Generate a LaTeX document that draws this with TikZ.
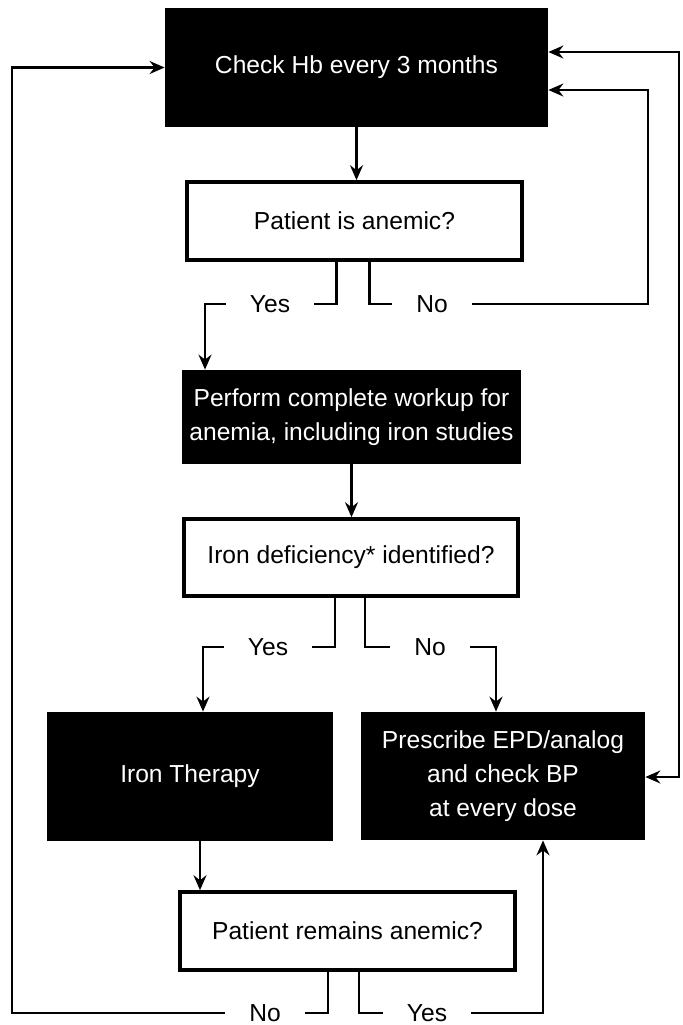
\documentclass[tikz,border=0pt]{standalone}
\usepackage{fontspec}
\setmainfont{Liberation Sans}
\usepackage{tikz}
\usetikzlibrary{arrows.meta}

\begin{document}
\begin{tikzpicture}[
            x=0.5pt, y=-0.5pt,
            every node/.style={font=\fontsize{12.3}{17}\selectfont, align=center, inner sep=0pt},
            darkbox/.style={fill=black, text=white},
            lightbox/.style={draw, line width=1.8pt, fill=white},
            answer/.style={inner xsep=12pt, inner ysep=2pt},
            arr/.style={line width=1.1pt, -{Stealth[length=7.5pt, width=6.5pt, inset=2.5pt]}},
            link/.style={line width=1.1pt}
        ]
        \useasboundingbox (0,0) rectangle (682,1025);
        % Start: regular check
        \node[darkbox, minimum width=191.5pt, minimum height=59.5pt] (check) at (356.5,67.5) {Check Hb every 3 months};
        \node[lightbox, minimum width=167.5pt, minimum height=39pt] (anemic) at (354.5,221) {Patient is anemic?};
        % Workup
        \node[darkbox, minimum width=169.5pt, minimum height=47pt] (workup) at (351.5,417) {Perform complete workup for\\anemia, including iron studies};
        \node[lightbox, minimum width=167pt, minimum height=38.5pt] (deficiency) at (351,557.5) {Iron deficiency* identified?};
        % Treatments
        \node[darkbox, minimum width=143pt, minimum height=64.5pt] (therapy) at (190,776.5) {Iron Therapy};
        \node[darkbox, minimum width=142pt, minimum height=64pt] (prescribe) at (503,776) {Prescribe EPD/analog\\and check BP\\at every dose};
        \node[lightbox, minimum width=167.5pt, minimum height=39pt] (remains) at (347.5,931) {Patient remains anemic?};
        % Answers
        \node[answer] (yesA) at (270,304) {Yes};
        \node[answer] (noA) at (432,304) {No};
        \node[answer] (yesB) at (268,647) {Yes};
        \node[answer] (noB) at (430,647) {No};
        \node[answer] (noC) at (265,1013) {No};
        \node[answer] (yesC) at (427,1013) {Yes};
        % Turning points
        \coordinate (yesAturn) at (205,304);
        \coordinate (noAturn) at (648,304);
        \coordinate (sideTop) at (679,52);
        \coordinate (sideBottom) at (679,777);
        \coordinate (yesBturn) at (203,647);
        \coordinate (noBturn) at (496,647);
        \coordinate (noCturn) at (12,1013);
        \coordinate (yesCturn) at (543,1013);

        % Check -> anemic?
        \draw[arr] (check.south) -- (check.south |- anemic.north);
        \draw[link] ([xshift=-9pt]anemic.south) |- (yesA.east);
        \draw[arr] (yesA.west) -- (yesAturn) -- (yesAturn |- workup.north);
        \draw[link] ([xshift=7.5pt]anemic.south) |- (noA.west);
        \draw[arr] (noA.east) -- (noAturn) |- ([yshift=-11.25pt]check.east);
        % Long line at the right side
        \draw[link, {Stealth[length=7.5pt, width=6.5pt, inset=2.5pt]}-{Stealth[length=7.5pt, width=6.5pt, inset=2.5pt]}]
            ([yshift=7.75pt]check.east) -- (sideTop) -- (sideBottom) -- (prescribe.east |- sideBottom);
        % Workup -> deficiency?
        \draw[arr] (workup.south) -- (workup.south |- deficiency.north);
        \draw[link] ([xshift=-8pt]deficiency.south) |- (yesB.east);
        \draw[arr] (yesB.west) -- (yesBturn) -- (yesBturn |- therapy.north);
        \draw[link] ([xshift=7pt]deficiency.south) |- (noB.west);
        \draw[arr] (noB.east) -- (noBturn) -- (noBturn |- prescribe.north);
        % Therapy -> remains anemic?
        \draw[arr] ([xshift=5pt]therapy.south) -- ([xshift=5pt]therapy.south |- remains.north);
        \draw[link] ([xshift=-9.75pt]remains.south) |- (noC.east);
        \draw[arr] (noC.west) -- (noCturn) |- (check.west);
        \draw[link] ([xshift=5.75pt]remains.south) |- (yesC.west);
        \draw[arr] (yesC.east) -- (yesCturn) -- (yesCturn |- prescribe.south);
    \end{tikzpicture}
\end{document}
